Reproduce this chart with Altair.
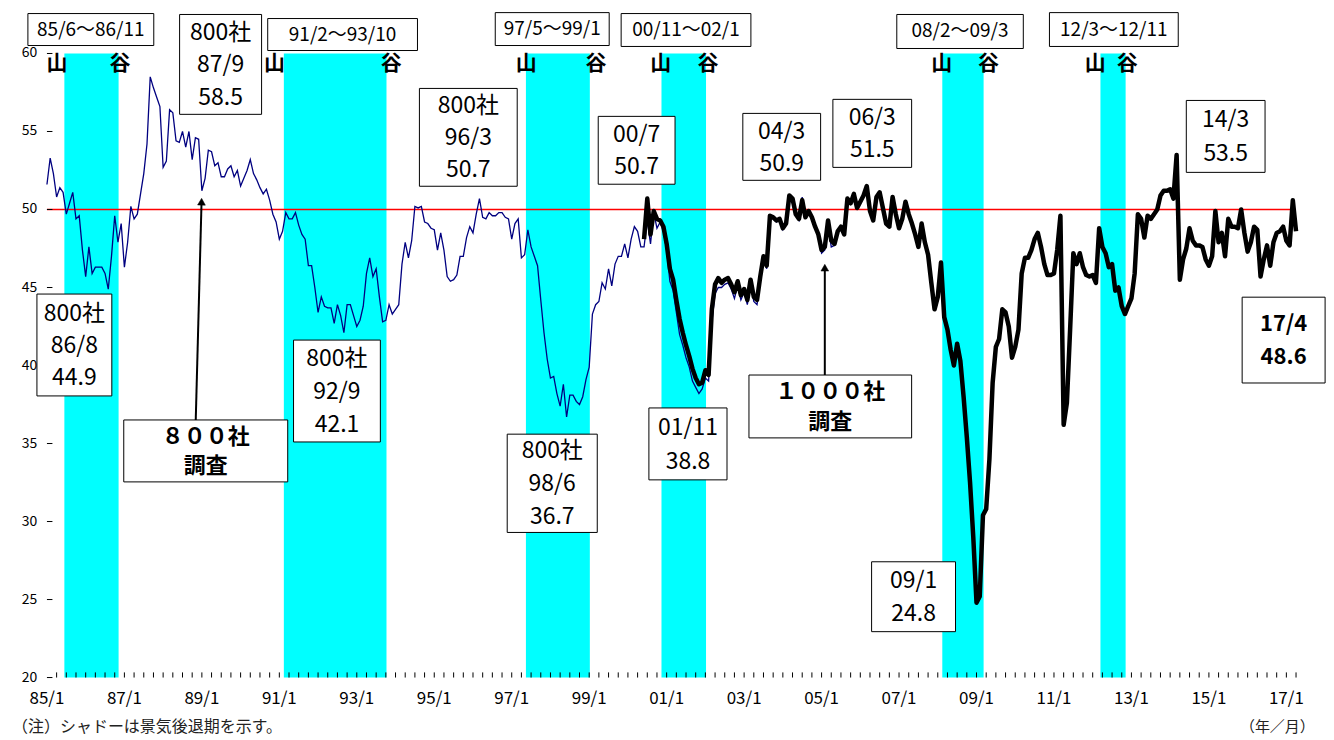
import altair as alt
import pandas as pd

FONT = "Noto Sans CJK JP"

# ---------------- data (monthly index values) ----------------
survey800_start = (1985, 1)
survey800 = [
    51.6, 53.3, 52.3, 50.8, 51.4, 51.1, 49.7, 50.4, 51.1, 49.4, 49.6, 47.4,  # 1985
    45.7, 47.6, 45.9, 46.3, 46.3, 46.3, 45.9, 44.9, 47.0, 49.6, 47.9, 49.1,  # 1986
    46.3, 47.9, 50.2, 49.4, 49.7, 51.0, 52.3, 54.2, 58.5, 57.8, 57.2, 56.6,  # 1987
    52.7, 53.1, 56.4, 56.2, 54.4, 54.3, 55.0, 54.0, 55.0, 53.2, 54.6, 54.5,  # 1988
    51.2, 52.0, 53.8, 53.7, 52.8, 53.0, 52.1, 52.1, 52.6, 52.8, 52.1, 52.5,  # 1989
    51.5, 52.0, 52.5, 53.2, 52.3, 51.9, 51.4, 51.0, 51.3, 50.6, 49.7, 49.2,  # 1990
    48.1, 48.6, 49.8, 49.4, 49.4, 49.8, 49.0, 48.4, 48.1, 46.4, 46.4, 45.0,  # 1991
    43.4, 44.4, 43.8, 43.7, 43.7, 42.7, 43.9, 43.2, 42.1, 43.9, 43.9, 43.2,  # 1992
    42.5, 42.9, 43.8, 45.9, 46.9, 45.7, 46.2, 44.4, 42.8, 42.9, 43.9, 43.3,  # 1993
    43.6, 43.9, 46.5, 47.9, 46.9, 48.0, 50.2, 50.1, 50.2, 49.2, 49.1, 48.8,  # 1994
    48.7, 47.4, 48.5, 47.4, 45.7, 45.4, 45.5, 45.8, 47.0, 47.0, 48.2, 48.9,  # 1995
    48.5, 49.7, 50.7, 49.5, 49.4, 49.8, 49.6, 49.6, 49.8, 49.8, 49.5, 49.4,  # 1996
    48.1, 49.1, 49.4, 46.9, 47.1, 48.7, 47.6, 47.0, 46.4, 44.2, 42.1, 40.4,  # 1997
    39.2, 39.3, 38.2, 37.4, 38.8, 36.7, 38.1, 38.1, 37.7, 37.5, 38.0, 39.1,  # 1998
    39.9, 43.3, 43.9, 44.1, 45.3, 44.9, 46.2, 45.1, 46.5, 47.0, 47.0, 47.8,  # 1999
    46.9, 48.1, 48.9, 48.6, 47.6, 47.6, 49.3, 47.8, 49.8, 48.8, 49.2, 48.6,  # 2000
    47.4, 45.4, 44.8, 43.4, 42.0, 41.3, 40.5, 39.9, 39.0, 38.6, 38.2, 38.5,  # 2001
    39.2, 39.0, 42.8, 44.6, 45.0, 45.0, 45.2, 45.3, 44.9, 44.3, 45.1, 44.2,  # 2002
    44.7, 43.9, 45.2, 44.1, 43.9, 45.5, 46.8, 46.2, 49.5, 49.4, 49.2, 49.3,  # 2003
    48.7, 49.0, 50.6, 50.4, 49.6, 49.3, 50.8, 49.6, 49.8, 49.4, 48.9, 48.2,  # 2004
    47.2, 47.4, 49.0, 47.6, 47.7,                                            # 2005
]

survey1000_start = (2000, 6)
survey1000 = [
    48.1, 50.7, 48.4, 49.9, 49.4, 49.3, 48.9,                                # 2000 (6-12)
    47.8, 46.2, 45.5, 44.2, 43.0, 42.1, 41.3, 40.6, 39.8, 39.2, 38.8, 38.9,  # 2001
    39.7, 39.4, 43.6, 45.2, 45.6, 45.3, 45.5, 45.6, 45.2, 44.7, 45.4, 44.5,  # 2002
    44.9, 44.2, 45.5, 44.4, 44.2, 45.7, 47.0, 46.4, 49.6, 49.5, 49.3, 49.4,  # 2003
    48.8, 49.1, 50.9, 50.7, 49.7, 49.4, 50.6, 49.5, 49.9, 49.5, 48.9, 48.4,  # 2004
    47.4, 47.6, 49.3, 48.0, 47.8, 48.6, 48.9, 48.4, 50.7, 50.4, 51.0, 50.1,  # 2005
    50.5, 50.9, 51.5, 49.9, 49.3, 50.8, 51.1, 50.1, 49.1, 48.9, 50.8, 49.7,  # 2006
    48.8, 49.4, 50.5, 49.7, 49.1, 48.4, 47.6, 49.1, 47.9, 47.1, 45.3, 43.6,  # 2007
    44.4, 46.6, 43.1, 42.3, 41.0, 40.0, 41.4, 40.3, 38.0, 35.4, 32.5, 29.0,  # 2008
    24.8, 25.2, 30.4, 30.8, 34.0, 38.9, 41.2, 41.7, 43.6, 43.4, 42.5, 40.5,  # 2009
    41.2, 42.3, 45.9, 46.9, 46.9, 47.4, 48.1, 48.5, 47.6, 46.5, 45.8, 45.8,  # 2010
    45.9, 47.4, 49.6, 36.2, 37.6, 42.3, 47.2, 46.5, 47.2, 46.3, 45.8, 45.7,  # 2011
    45.8, 45.3, 48.8, 47.6, 47.2, 46.3, 46.5, 44.8, 45.0, 43.8, 43.3, 43.8,  # 2012
    44.3, 45.9, 49.7, 49.4, 48.2, 49.6, 49.4, 49.7, 50.0, 50.9, 51.2, 51.2,  # 2013
    51.3, 50.7, 53.5, 45.5, 46.8, 47.5, 48.8, 48.0, 47.7, 47.7, 47.6, 46.8,  # 2014
    46.4, 47.0, 49.9, 47.9, 48.5, 47.0, 49.4, 48.9, 48.9, 48.8, 50.0, 48.5,  # 2015
    47.3, 47.9, 48.9, 48.7, 45.7, 46.8, 47.7, 46.4, 47.9, 48.5, 48.6, 48.9,  # 2016
    48.0, 47.7, 50.6, 48.6,                                                  # 2017 (1-4)
]

recession_peak = ["85/6", "91/2", "97/5", "00/11", "08/2", "12/3"]
recession_trough = ["86/11", "93/10", "99/1", "02/1", "09/3", "12/11"]

y_tick_values = [20, 25, 30, 35, 40, 45, 50, 55, 60]
x_label_years = list(range(1985, 2018, 2))
x_tick_labels = ["%02d/1" % (y % 100) for y in x_label_years]
reference_level = 50

callout_lines = [
    ["800社", "87/9", "58.5"],
    ["800社", "96/3", "50.7"],
    ["00/7", "50.7"],
    ["04/3", "50.9"],
    ["06/3", "51.5"],
    ["14/3", "53.5"],
    ["800社", "86/8", "44.9"],
    ["800社", "92/9", "42.1"],
    ["800社", "98/6", "36.7"],
    ["01/11", "38.8"],
    ["09/1", "24.8"],
    ["17/4", "48.6"],
    ["８００社", "調査"],
    ["１０００社", "調査"],
]
callout_bold = [False] * 11 + [True, True, True]
note_text = "（注）シャドーは景気後退期を示す。"
unit_text = "（年／月）"


# ---------------- helpers ----------------
def month_index(year, month):
    return (year - 1985) * 12 + (month - 1)


def parse_ym(s):
    yy, mm = s.split("/")
    yy = int(yy)
    return month_index(1900 + yy if yy >= 50 else 2000 + yy, int(mm))


X_DOMAIN = [0, month_index(2017, 4)]
Y_DOMAIN = [20, 60]
xs = alt.Scale(domain=X_DOMAIN, nice=False, zero=False)
ys = alt.Scale(domain=Y_DOMAIN, nice=False, zero=False)


def X(f):
    return alt.X(f, type="quantitative", scale=xs, axis=None)


def Y(f):
    return alt.Y(f, type="quantitative", scale=ys, axis=None)


# ---------------- layout (annotation placement, in data units) ----------------
period_box = [(-5.9, 33.1, 62.56, 60.51), (68.4, 114.8, 62.24, 60.19),
              (138.9, 174.2, 62.62, 60.51), (177.9, 218.1, 62.56, 60.45),
              (263.3, 302.5, 62.5, 60.32), (310.6, 350.5, 62.62, 60.45)]
yama_k = [3.1, 70.5, 148.5, 190.2, 277.2, 324.8]
tani_k = [22.6, 106.7, 170.1, 204.8, 291.7, 334.7]
yamatani_v = 59.3
callout_box = [
    (41.1, 66.5, 62.5, 56.1, 2.08),
    (115.4, 145.7, 57.76, 51.49, 2.05),
    (170.8, 194.6, 55.97, 51.62, 2.05),
    (215.6, 239.7, 56.16, 51.87, 2.05),
    (243.5, 267.9, 57.06, 52.7, 2.05),
    (353.0, 377.4, 56.99, 52.38, 2.2),
    (-3.1, 20.1, 44.58, 38.05, 2.05),
    (76.4, 103.3, 41.63, 35.1, 2.1),
    (142.6, 170.5, 35.6, 29.3, 2.1),
    (186.5, 210.7, 37.28, 32.67, 2.2),
    (255.5, 281.5, 27.42, 22.94, 2.15),
    (370.3, 396.0, 44.38, 38.88, 2.1),
    (23.8, 74.6, 36.51, 32.54, 1.85),
    (217.5, 267.9, 39.39, 35.36, 1.9),
]
arrows = [((46.1, 36.51), (47.9, 50.85), 1.4), ((241.0, 39.39), (241.0, 46.62), 0.0)]
head_len = 0.35
xlabel_v = 18.62
ylabel_k = -3.0
note_pos = (-10.8, 16.8)
unit_pos = (392.8, 16.8)
xtick_len = 0.33
ytick_len = 1.7

# ---------------- frames ----------------
k800 = month_index(*survey800_start)
df800 = pd.DataFrame({"k": range(k800, k800 + len(survey800)), "v": survey800})
k1000 = month_index(*survey1000_start)
df1000 = pd.DataFrame({"k": range(k1000, k1000 + len(survey1000)), "v": survey1000})

band_df = pd.DataFrame({
    "k0": [parse_ym(p) + 0.4 for p in recession_peak],
    "k1": [parse_ym(t) + 0.2 for t in recession_trough],
})
band_df["lo"] = Y_DOMAIN[0]
band_df["hi"] = Y_DOMAIN[1]

pbox_df = pd.DataFrame({
    "k0": [b[0] for b in period_box], "k1": [b[1] for b in period_box],
    "v0": [b[2] for b in period_box], "v1": [b[3] for b in period_box],
    "kc": [(b[0] + b[1]) / 2 for b in period_box],
    "vc": [(b[2] + b[3]) / 2 for b in period_box],
    "label": [p + "～" + t for p, t in zip(recession_peak, recession_trough)],
})

yt_df = pd.DataFrame({
    "k": yama_k + tani_k,
    "v": [yamatani_v] * (len(yama_k) + len(tani_k)),
    "label": ["山"] * len(yama_k) + ["谷"] * len(tani_k),
})

cbox_df = pd.DataFrame({
    "k0": [b[0] for b in callout_box], "k1": [b[1] for b in callout_box],
    "v0": [b[2] for b in callout_box], "v1": [b[3] for b in callout_box],
})

rows = []
for lines, box, bold in zip(callout_lines, callout_box, callout_bold):
    k0, k1, v0, v1, sp = box
    kc, vc = (k0 + k1) / 2, (v0 + v1) / 2
    n = len(lines)
    for i, t in enumerate(lines):
        rows.append({"k": kc, "v": vc - (i - (n - 1) / 2) * sp - 0.05, "label": t,
                     "weight": "bold" if bold else "normal"})
ctext_df = pd.DataFrame(rows)

arrow_df = pd.DataFrame({
    "k0": [a[0][0] for a in arrows], "v0": [a[0][1] for a in arrows],
    "k1": [a[1][0] for a in arrows], "v1": [a[1][1] - head_len for a in arrows],
})

xtick_df = pd.DataFrame({"k": list(range(3, X_DOMAIN[1] + 1, 3))})
xtick_df["v0"] = Y_DOMAIN[0]
xtick_df["v1"] = Y_DOMAIN[0] + xtick_len
ytick_df = pd.DataFrame({"tv": y_tick_values})
ytick_df["tk0"] = X_DOMAIN[0]
ytick_df["tk1"] = X_DOMAIN[0] + ytick_len
ref_df = pd.DataFrame({"rk": X_DOMAIN, "rv": [reference_level, reference_level]})
xlab_df = pd.DataFrame({"k": [month_index(y, 1) for y in x_label_years],
                        "label": x_tick_labels})
xlab_df["v"] = xlabel_v
ylab_df = pd.DataFrame({"v": y_tick_values, "label": [str(v) for v in y_tick_values]})
ylab_df["k"] = ylabel_k
note_l_df = pd.DataFrame({"k": [note_pos[0]], "v": [note_pos[1]], "label": [note_text]})
note_r_df = pd.DataFrame({"k": [unit_pos[0]], "v": [unit_pos[1]], "label": [unit_text]})

# ---------------- layers ----------------
bands = alt.Chart(band_df).mark_rect(fill="#00FFFF", stroke=None).encode(
    x=alt.X("k0:Q", scale=xs,
            axis=alt.Axis(labels=False, ticks=False, grid=False, domainColor="#222222",
                          domainWidth=1.5, title=None)),
    x2="k1",
    y=alt.Y("lo:Q", scale=ys,
            axis=alt.Axis(labels=False, ticks=False, grid=False, domainColor="black",
                          domainWidth=1, title=None)),
    y2="hi")

ref_line = alt.Chart(ref_df).mark_line(strokeWidth=1.3).encode(
    x=X("rk"), y=Y("rv"), color=alt.value("#FF0000"))

xticks = alt.Chart(xtick_df).mark_rule(stroke="black", strokeWidth=1).encode(
    x=X("k"), y=Y("v0"), y2="v1")
yticks = alt.Chart(ytick_df).mark_rule(stroke="black", strokeWidth=1).encode(
    y=Y("tv"), x=X("tk0"), x2="tk1")

xlabels = alt.Chart(xlab_df).mark_text(font=FONT, fontSize=17, color="black",
                                       align="center", baseline="middle").encode(
    x=X("k"), y=Y("v"), text="label:N")
ylabels = alt.Chart(ylab_df).mark_text(font=FONT, fontSize=14, color="black",
                                       align="right", baseline="middle").encode(
    x=X("k"), y=Y("v"), text="label:N")

line800 = alt.Chart(df800).mark_line(color="#000080", strokeWidth=1.3).encode(
    x=X("k"), y=Y("v"))
line1000 = alt.Chart(df1000).mark_line(color="black", strokeWidth=4.5, strokeJoin="round").encode(
    x=X("k"), y=Y("v"))

pboxes = alt.Chart(pbox_df).mark_rect(fill="white", stroke="black", strokeWidth=1).encode(
    x=X("k0"), x2="k1", y=Y("v0"), y2="v1")
ptext = alt.Chart(pbox_df).mark_text(font=FONT, fontSize=19, color="black",
                                     baseline="middle", align="center").encode(
    x=X("kc"), y=Y("vc"), text="label:N")

yamatani = alt.Chart(yt_df).mark_text(font=FONT, fontSize=21, fontWeight="bold", color="black",
                                      baseline="middle", align="center").encode(
    x=X("k"), y=Y("v"), text="label:N")

cboxes = alt.Chart(cbox_df).mark_rect(fill="white", stroke="black", strokeWidth=1).encode(
    x=X("k0"), x2="k1", y=Y("v0"), y2="v1")
ctext_n = alt.Chart(ctext_df[ctext_df["weight"] == "normal"]).mark_text(
    font=FONT, fontSize=23, color="black", baseline="middle", align="center").encode(
    x=X("k"), y=Y("v"), text="label:N")
ctext_b = alt.Chart(ctext_df[ctext_df["weight"] == "bold"]).mark_text(
    font=FONT, fontSize=22, fontWeight="bold", color="black", baseline="middle",
    align="center").encode(x=X("k"), y=Y("v"), text="label:N")

arrow_shaft = alt.Chart(arrow_df).mark_rule(stroke="black", strokeWidth=2).encode(
    x=X("k0"), y=Y("v0"), x2="k1", y2="v1")
heads = []
for i, a in enumerate(arrows):
    heads.append(
        alt.Chart(arrow_df.iloc[[i]]).mark_point(
            shape="triangle-up", filled=True, fill="black", stroke="black", strokeWidth=0.5,
            size=60, opacity=1, angle=a[2]).encode(x=X("k1"), y=Y("v1")))

note_l = alt.Chart(note_l_df).mark_text(
    font=FONT, fontSize=16, color="#222222", align="left", baseline="middle").encode(
    x=X("k"), y=Y("v"), text="label:N")
note_r = alt.Chart(note_r_df).mark_text(
    font=FONT, fontSize=15, color="#222222", align="right", baseline="middle").encode(
    x=X("k"), y=Y("v"), text="label:N")

chart = alt.layer(
    bands, ref_line, xticks, yticks, line800, line1000,
    pboxes, ptext, yamatani, cboxes, ctext_n, ctext_b,
    arrow_shaft, *heads, xlabels, ylabels, note_l, note_r,
).properties(
    width=1251, height=625,
    padding={"left": 39, "top": 45, "right": 30, "bottom": 62},
    autosize=alt.AutoSizeParams(type="none"),
).configure_view(stroke=None)

chart.save("out.html", embed_options={"renderer": "svg", "actions": False})
